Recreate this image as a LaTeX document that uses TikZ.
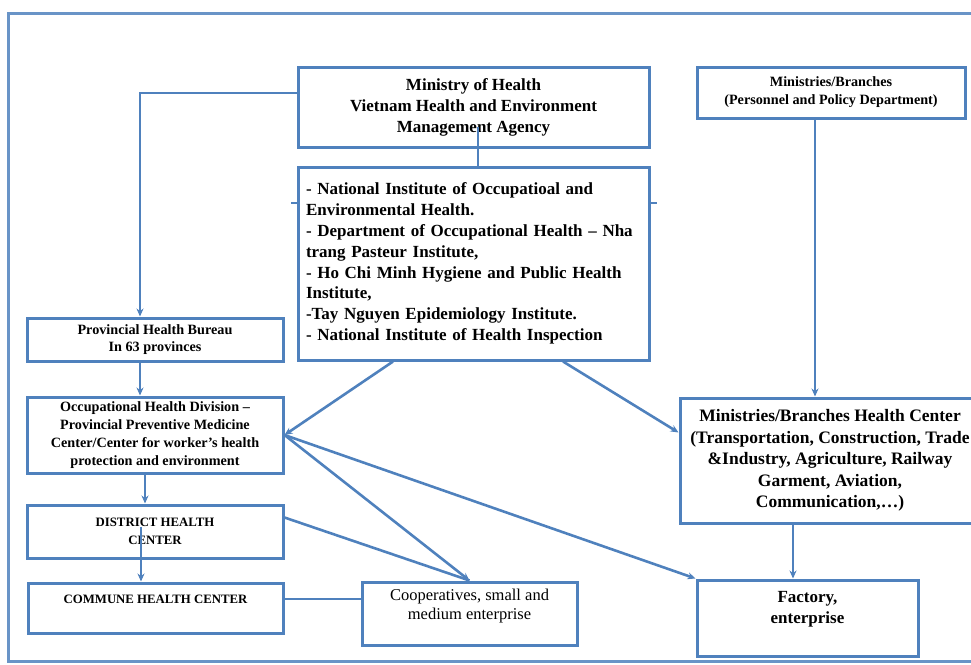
\documentclass[tikz,border=0pt]{standalone}
\usepackage{fontspec}
\setmainfont{Liberation Serif}
\usepackage{xcolor}
\usetikzlibrary{arrows.meta, positioning}

\definecolor{boxblue}{RGB}{79,129,189}
\newcommand{\bigtxt}{\fontsize{17}{21}\selectfont\bfseries}
\newcommand{\insttxt}{\fontsize{17}{20.8}\selectfont\bfseries}
\newcommand{\midtxt}{\fontsize{14.2}{17.8}\selectfont\bfseries}
\newcommand{\captxt}{\fontsize{12.8}{18}\selectfont\bfseries}
\newcommand{\cooptxt}{\fontsize{16.5}{19}\selectfont}

\begin{document}
\begin{tikzpicture}[x=1pt, y=-1pt, >={Stealth[length=8pt,width=7pt]},
    box/.style={draw=boxblue, line width=3pt, rectangle, align=center, inner sep=2pt},
    link/.style={draw=boxblue, line width=2.6pt}]
        \useasboundingbox (0,0) rectangle (971,664);

        % --- Outer frame ---
        \draw[boxblue!85, line width=3pt] (8,13) rectangle (990,661);

        % --- Top level ---
        \node[box, minimum width=351pt, minimum height=80pt, font=\bigtxt] (moh) at (473.5,107)
            {Ministry of Health\\Vietnam Health and Environment\\Management Agency};
        \node[box, minimum width=268pt, minimum height=51pt, font=\midtxt] (mnb) at (831,92.5)
            {Ministries/Branches\\(Personnel and Policy Department)};

        % --- Institutes ---
        \node[box, minimum height=193pt, text width=335pt, inner xsep=8pt, align=left, font=\insttxt] (inst) at (473.5,263.5)
            {- National Institute of Occupatioal and\\
             Environmental Health.\\
             - Department of Occupational Health -- Nha\\
             trang Pasteur Institute,\\
             - Ho Chi Minh Hygiene and Public Health\\
             Institute,\\
             -Tay Nguyen Epidemiology Institute.\\
             - National Institute of Health Inspection};
        \coordinate (inst_l) at ([yshift=60.5pt]inst.west);
        \coordinate (inst_r) at ([yshift=60.5pt]inst.east);

        % --- Provincial side ---
        \node[box, minimum width=256pt, minimum height=43pt, font=\midtxt] (prov) at (155,339.5)
            {Provincial Health Bureau\\In 63 provinces};
        \node[box, minimum width=256pt, minimum height=76pt, font=\midtxt] (occ) at (155,435)
            {Occupational Health Division --\\Provincial Preventive Medicine\\Center/Center for worker’s health\\protection and environment};
        \node[box, minimum width=256pt, minimum height=53pt, font=\captxt] (dist) at (155,531.5)
            {DISTRICT HEALTH\\CENTER};
        \node[box, minimum width=255pt, minimum height=50pt, font=\captxt] (comm) at (155.5,608)
            {COMMUNE HEALTH CENTER\\ \mbox{}};

        % --- Enterprises ---
        \node[box, minimum width=215pt, minimum height=63pt, font=\cooptxt] (coop) at (469.5,613.5)
            {Cooperatives, small and\\medium enterprise\\ \mbox{}};
        \node[box, minimum width=221pt, minimum height=76pt, font=\bigtxt] (fact) at (807.5,618)
            {Factory,\\enterprise\\ \mbox{}};

        % --- Branch health center ---
        \node[box, minimum width=300pt, minimum height=125pt, font=\fontsize{17.5}{21.5}\selectfont\bfseries] (mbhc) at (830,460.5)
            {Ministries/Branches Health Center\\(Transportation, Construction, Trade\\\&Industry, Agriculture, Railway\\Garment, Aviation,\\Communication,\dots)};

        % --- Connectors ---
        \draw[link, ->] ([yshift=14pt]moh.west) -| ([xshift=-15pt]prov.north);
        \draw[link] ([xshift=4.5pt,yshift=-20pt]moh.center) -- ([xshift=4.5pt]inst.north);
        \draw[link] (inst_l) -- ++(-6,0);
        \draw[link] (inst_r) -- ++(6,0);
        \draw[link, ->] ([xshift=-15pt]prov.south) -- ([xshift=-15pt]occ.north);
        \draw[link, ->] ([xshift=-10pt]occ.south) -- ([xshift=-10pt]dist.north);
        \draw[link, ->] ([xshift=-14pt,yshift=4.5pt]dist.center) -- ([xshift=-14.5pt]comm.north);
        \draw[link, ->] ([xshift=-80.5pt]inst.south) -- (occ.east);
        \draw[link, ->] ([xshift=89.5pt]inst.south) -- ([yshift=28pt]mbhc.west);
        \draw[link, ->] ([xshift=-16pt]mnb.south) -- ([xshift=-15pt]mbhc.north);
        \draw[link, ->] ([xshift=-37pt]mbhc.south) -- ([xshift=-14.5pt]fact.north);
        \draw[link, ->] (occ.east) -- (coop.north);
        \draw[link, ->] (occ.east) -- (fact.north west);
        \draw[link] ([yshift=14pt]dist.east) -- (coop.north);
        \draw[link] ([yshift=9pt]comm.east) -- ([yshift=9pt]comm.east -| coop.west);
    \end{tikzpicture}
\end{document}
